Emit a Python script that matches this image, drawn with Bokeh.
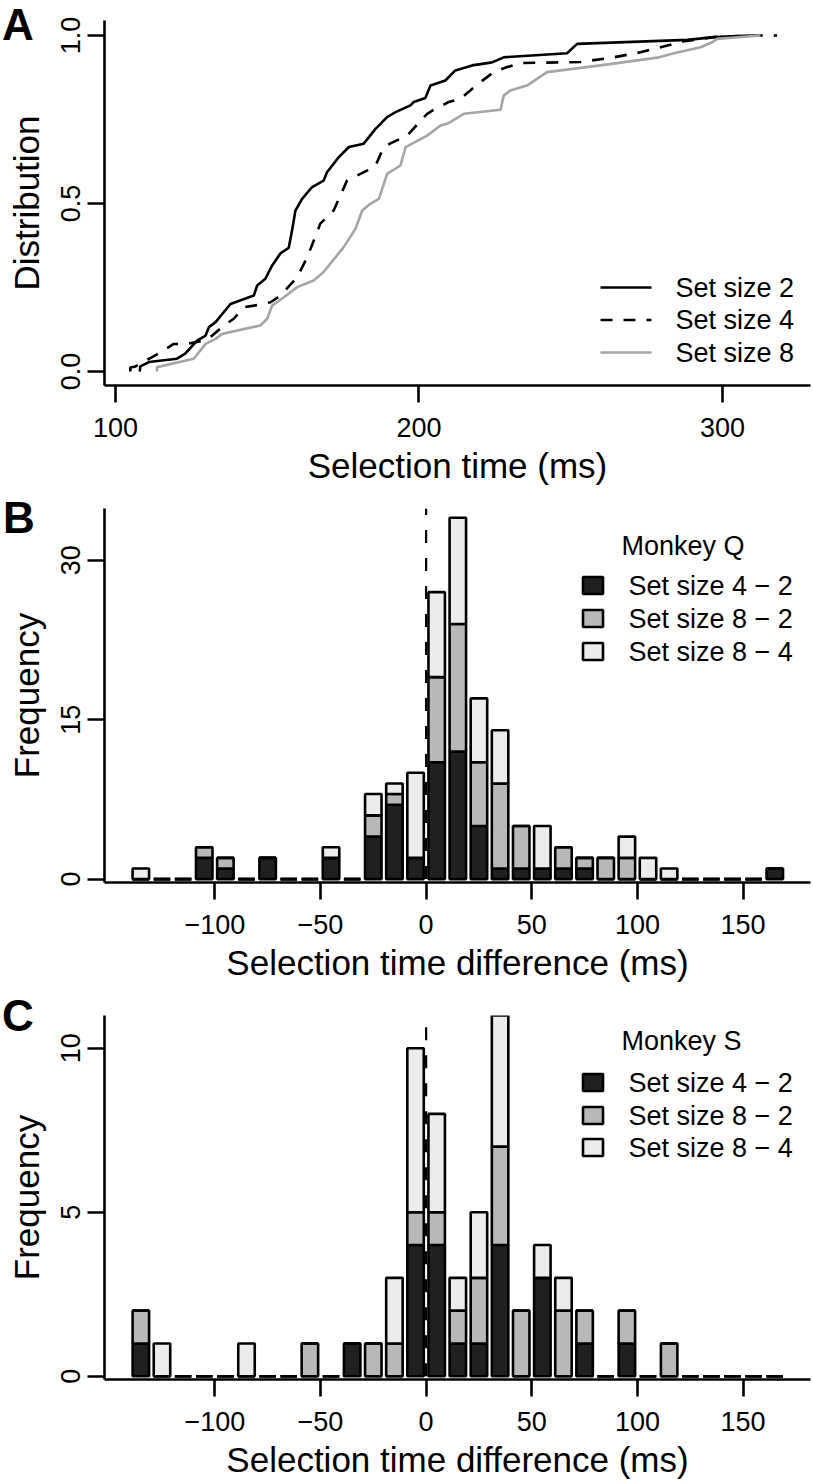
from bokeh.plotting import figure
from bokeh.models import Range1d, FixedTicker, ColumnDataSource, Div
from bokeh.layouts import column
from bokeh.embed import file_html
from bokeh.resources import INLINE
from bokeh.core.properties import value

FONT = "Liberation Sans"

# ---------------- Panel A data: cumulative distributions (ms, fraction) ----------------
ss2_x = [108.0, 108.2, 111.0, 120.3, 123.0, 126.9, 129.7, 130.8, 133.0, 137.9, 145.6, 146.7,
         149.4, 151.6, 154.4, 157.1, 158.2, 159.3, 161.5, 164.8, 168.6, 169.7, 173.6, 176.9,
         181.8, 185.7, 189.5, 192.3, 197.2, 198.3, 202.1, 203.8, 208.7, 212.0, 217.5, 224.1,
         227.9, 248.8, 252.1, 288.4, 297.1, 309.2]
ss2_y = [0.0, 0.015, 0.028, 0.038, 0.053, 0.092, 0.107, 0.132, 0.147, 0.201, 0.226, 0.256,
         0.276, 0.315, 0.352, 0.368, 0.420, 0.479, 0.514, 0.549, 0.568, 0.593, 0.638, 0.668,
         0.678, 0.722, 0.757, 0.772, 0.792, 0.802, 0.814, 0.851, 0.866, 0.896, 0.911, 0.920,
         0.935, 0.947, 0.975, 0.987, 0.995, 1.0]

ss4_x = [104.9, 104.9, 106.6, 112.1, 114.8, 119.2, 123.6, 129.1, 131.9, 135.7, 139.0, 142.3,
         145.6, 151.1, 154.4, 159.9, 163.2, 167.5, 171.9, 176.3, 182.9, 185.7, 188.4, 190.6,
         196.1, 202.7, 205.5, 209.8, 213.7, 218.1, 224.6, 229.1, 233.4, 253.2, 264.2, 273.0,
         281.8, 287.3, 297.1, 309.2, 318.0]
ss4_y = [0.0, 0.012, 0.015, 0.043, 0.057, 0.082, 0.082, 0.092, 0.107, 0.137, 0.157, 0.191,
         0.196, 0.206, 0.226, 0.281, 0.340, 0.440, 0.479, 0.568, 0.598, 0.613, 0.668, 0.679,
         0.702, 0.767, 0.782, 0.802, 0.812, 0.846, 0.891, 0.906, 0.918, 0.921, 0.935, 0.950,
         0.970, 0.983, 0.995, 1.0, 1.0]

ss8_x = [113.7, 113.7, 125.8, 129.7, 133.0, 135.2, 147.8, 150.0, 151.6, 155.5, 159.9, 165.3,
         168.6, 170.8, 175.2, 179.1, 181.3, 184.0, 186.8, 189.5, 193.9, 195.6, 202.7, 207.1,
         209.3, 214.8, 226.9, 227.9, 230.1, 235.6, 242.2, 259.8, 278.5, 284.0, 292.8, 296.6,
         298.2, 312.5]
ss8_y = [0.0, 0.013, 0.038, 0.082, 0.097, 0.112, 0.137, 0.157, 0.196, 0.221, 0.251, 0.271,
         0.296, 0.321, 0.370, 0.425, 0.479, 0.499, 0.514, 0.588, 0.613, 0.668, 0.702, 0.732,
         0.737, 0.767, 0.779, 0.821, 0.836, 0.851, 0.891, 0.911, 0.934, 0.947, 0.965, 0.980,
         0.990, 1.0]

a_labels = ["Set size 2", "Set size 4", "Set size 8"]

# ---------------- Panels B, C data: histogram counts per 10 ms bin ----------------
bin_left = [-140, -130, -120, -110, -100, -90, -80, -70, -60, -50, -40, -30, -20, -10, 0, 10,
            20, 30, 40, 50, 60, 70, 80, 90, 100, 110, 120, 130, 140, 150, 160]

q_42 = [0, 0, 0, 2, 1, 0, 2, 0, 0, 2, 0, 4, 7, 2, 11, 12, 5, 1, 1, 1, 1, 1, 0, 0, 0, 0, 0, 0, 0, 0, 1]
q_82 = [0, 0, 0, 1, 1, 0, 0, 0, 0, 0, 0, 2, 1, 0, 8, 12, 6, 8, 4, 0, 2, 1, 2, 2, 0, 0, 0, 0, 0, 0, 0]
q_84 = [1, 0, 0, 0, 0, 0, 0, 0, 0, 1, 0, 2, 1, 8, 8, 10, 6, 5, 0, 4, 0, 0, 0, 2, 2, 1, 0, 0, 0, 0, 0]

s_42 = [1, 0, 0, 0, 0, 0, 0, 0, 0, 0, 1, 0, 0, 4, 4, 1, 1, 4, 0, 3, 0, 1, 0, 1, 0, 0, 0, 0, 0, 0, 0]
s_82 = [1, 0, 0, 0, 0, 0, 0, 0, 1, 0, 0, 1, 1, 1, 1, 1, 2, 3, 2, 0, 2, 1, 0, 1, 0, 1, 0, 0, 0, 0, 0]
s_84 = [0, 1, 0, 0, 0, 1, 0, 0, 0, 0, 0, 0, 2, 5, 3, 1, 2, 4, 0, 1, 1, 0, 0, 0, 0, 0, 0, 0, 0, 0, 0]

hist_labels = ["Set size 4 \u2212 2", "Set size 8 \u2212 2", "Set size 8 \u2212 4"]

diff_ticks = [-100, -50, 0, 50, 100, 150]
diff_tick_labels = ["\u2212100", "\u221250", "0", "50", "100", "150"]

panel_letters = ["A", "B", "C"]

# ---------------- styling ----------------
DARK, MID, LIGHT = "#202020", "#b8b8b8", "#ececec"
CURVE_GRAY = "#a6a6a6"
LW = 2.6
FRAME_L, FRAME_W = 104, 706


def make_fig(xr, yr, ftop, fbot, top_border, bottom_border, xticks, xlabs, yticks, ylabs, xtitle, ytitle):
    p = figure(output_backend="svg", toolbar_location=None,
               frame_width=FRAME_W, frame_height=fbot - ftop,
               x_range=Range1d(*xr), y_range=Range1d(*yr),
               min_border_left=FRAME_L, min_border_right=3,
               min_border_top=top_border, min_border_bottom=bottom_border)
    p.outline_line_color = None
    p.grid.visible = False
    p.background_fill_color = "white"
    p.border_fill_color = "white"
    for ax, ticks, labs, title in ((p.xaxis[0], xticks, xlabs, xtitle), (p.yaxis[0], yticks, ylabs, ytitle)):
        ax.ticker = FixedTicker(ticks=ticks)
        ax.major_label_overrides = {t: l for t, l in zip(ticks, labs)}
        ax.axis_line_width = LW
        ax.axis_line_color = "black"
        ax.major_tick_line_width = LW
        ax.major_tick_line_color = "black"
        ax.major_tick_out = 17
        ax.major_tick_in = 0
        ax.minor_tick_out = 0
        ax.minor_tick_in = 0
        ax.major_label_text_font = FONT
        ax.major_label_text_font_size = "27px"
        ax.major_label_text_color = "black"
        ax.axis_label = title
        ax.axis_label_text_font = FONT
        ax.axis_label_text_font_size = "35px"
        ax.axis_label_text_font_style = "normal"
        ax.axis_label_text_color = "black"
    p.xaxis[0].major_label_standoff = 15
    p.xaxis[0].axis_label_standoff = 6
    p.yaxis[0].major_label_standoff = 7
    p.yaxis[0].axis_label_standoff = 13
    p.yaxis[0].major_label_orientation = "vertical"

    def to_data(px, py):
        x = xr[0] + (px - FRAME_L) / FRAME_W * (xr[1] - xr[0])
        y = yr[1] - (py - ftop) / (fbot - ftop) * (yr[1] - yr[0])
        return x, y
    return p, to_data


def txt(p, to_data, px, py, s, size):
    x, y = to_data(px, py)
    p.text(x=[x], y=[y], text=[s], text_font=value(FONT), text_font_size=size,
           text_align="left", text_baseline="middle", text_color="black")


# ---------------- Panel A ----------------
pA, dA = make_fig((96.4, 329.0), (-0.0417, 1.0446), 20, 385, 20, 105,
                  [100, 200, 300], ["100", "200", "300"],
                  [0.0, 0.5, 1.0], ["0.0", "0.5", "1.0"],
                  "Selection time (ms)", "Distribution")
pA.line(ss2_x, ss2_y, line_color="black", line_width=LW)
pA.line(ss4_x, ss4_y, line_color="black", line_width=LW, line_dash="12 11")
pA.line(ss8_x, ss8_y, line_color=CURVE_GRAY, line_width=LW)
for i, (lab, col, dash) in enumerate(zip(a_labels, ["black", "black", CURVE_GRAY], ["solid", "12 11", "solid"])):
    py = [287, 319.5, 352][i]
    x0, y0 = dA(600, py)
    x1, _ = dA(651, py)
    pA.line([x0, x1], [y0, y0], line_color=col, line_width=LW, line_dash=dash)
    txt(pA, dA, 675, py, lab, "27px")


# ---------------- Panels B, C ----------------
def hist_panel(d, g, l, xr, yr, ftop, fbot, top_b, bot_b, yticks, title, leg_rows, title_py):
    p, td = make_fig(xr, yr, ftop, fbot, top_b, bot_b, diff_ticks, diff_tick_labels,
                     yticks, [str(t) for t in yticks],
                     "Selection time difference (ms)", "Frequency")
    cx = [b + 5 for b in bin_left]
    t1 = list(d)
    t2 = [a + b for a, b in zip(t1, g)]
    t3 = [a + b for a, b in zip(t2, l)]
    src = ColumnDataSource(dict(x=cx, b0=[0] * len(cx), t1=t1, t2=t2, t3=t3))
    for bot, top, col in (("b0", "t1", DARK), ("t1", "t2", MID), ("t2", "t3", LIGHT)):
        p.vbar(x="x", width=7.8, bottom=bot, top=top, source=src, fill_color=col,
               line_color="black", line_width=LW)
    p.segment(x0=[0], y0=[0], x1=[0], y1=[yr[1]], line_color="black", line_width=2.2,
              line_dash="13 15")
    # legend
    txt(p, td, 621, title_py, title, "27px")
    for py, lab, col in zip(leg_rows, hist_labels, (DARK, MID, LIGHT)):
        x, y = td(592.5, py)
        p.rect(x=[x], y=[y], width=20, height=17, width_units="screen", height_units="screen",
               fill_color=col, line_color="black", line_width=LW)
        txt(p, td, 628, py, lab, "27px")
    return p


pB = hist_panel(q_42, q_82, q_84, (-152.2, 181.9), (-0.32, 34.87), 508, 882, 18, 108,
                [0, 15, 30], "Monkey Q", [585, 618, 651], 545)
pC = hist_panel(s_42, s_82, s_84, (-152.2, 181.9), (-0.1, 11.0), 1015, 1379, 25, 105,
                [0, 5, 10], "Monkey S", [1082, 1115, 1147], 1040)

# panel letters, placed over the left margins of the three figures
letter_pos = [(2, 3), (3, 496), (2, 994)]
letters_html = "".join(
    '<div style="position:absolute; left:%dpx; top:%dpx; font-family:\'Liberation Sans\', sans-serif; '
    'font-weight:bold; font-size:44px; line-height:44px; color:black; white-space:nowrap;">%s</div>'
    % (x, y, t) for t, (x, y) in zip(panel_letters, letter_pos))
letters = Div(text=letters_html, width=813, height=0, margin=0,
              styles={"overflow": "visible", "position": "relative", "z-index": "10"})

layout = column(letters, pA, pB, pC, spacing=0)
open("out.html", "w").write(file_html(layout, INLINE))
